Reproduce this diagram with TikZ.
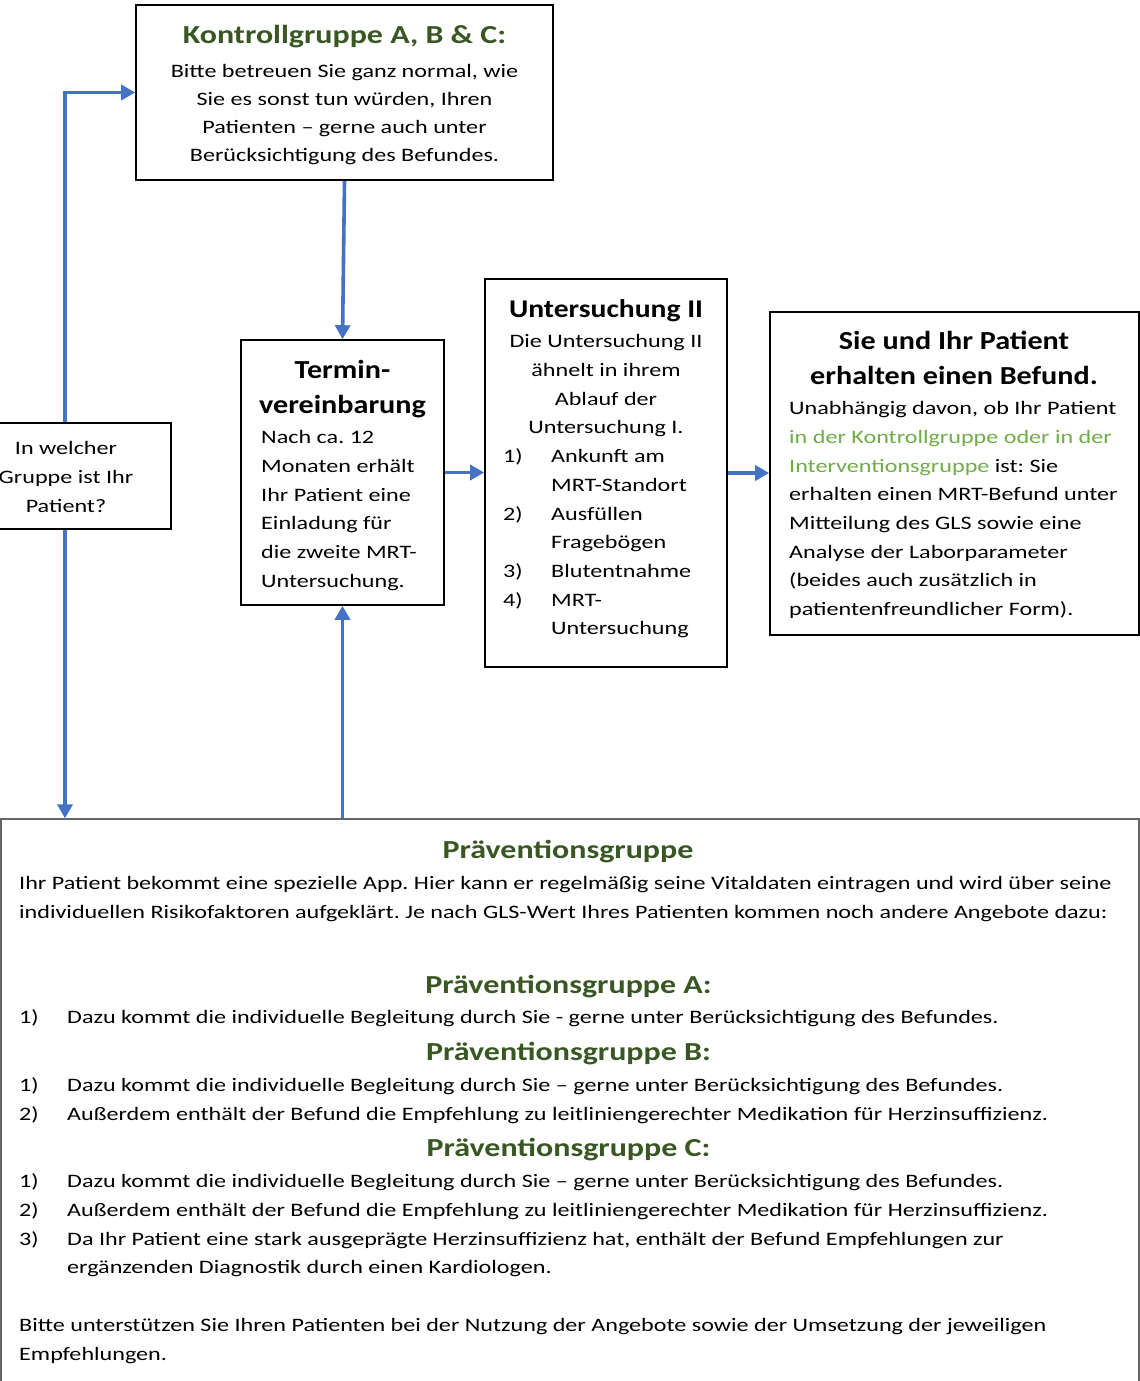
\documentclass[tikz,border=0pt]{standalone}
\usepackage{fontspec}
\setmainfont{Carlito}[FakeStretch=1.27]
\newfontfamily\wideheadfont{Carlito}[FakeStretch=1.23]
\newfontfamily\boxheadfont{Carlito}[FakeStretch=1.16]
\usetikzlibrary{arrows.meta}
\frenchspacing
\definecolor{flowblue}{HTML}{4472C4}
\definecolor{titlegreen}{HTML}{385723}
\definecolor{notegreen}{HTML}{70AD47}
% struts that fix the height of the first line of a text block
\newcommand{\fls}{\rule{0pt}{16pt}}
\newcommand{\tls}{\rule{0pt}{22pt}}
\newcommand{\bodyfont}{\fontsize{19}{28.7}\selectfont}
\newcommand{\headfont}{\wideheadfont\fontsize{26}{35}\selectfont\bfseries}
\newcommand{\bheadfont}{\boxheadfont\fontsize{26}{35}\selectfont\bfseries}
\newcommand{\num}[1]{\makebox[48pt][l]{#1}}
\begin{document}
\begin{tikzpicture}[x=1pt,y=-1pt,
  box/.style={draw=black, line width=1.6pt, inner sep=0pt},
  txt/.style={inner sep=0pt, anchor=north, font=\bodyfont},
  head/.style={inner sep=0pt, anchor=north, font=\headfont},
  bhead/.style={inner sep=0pt, anchor=north, font=\bheadfont},
  arr/.style={draw=flowblue, line width=3.6pt, -{Triangle[length=14pt,width=15pt]}}]
\useasboundingbox (0,0) rectangle (1140,1381);
\fill[white] (0,0) rectangle (1140,1381);

% boxes
\node[box, minimum width=417pt, minimum height=175pt] (kg) at (344.5,92.5) {};
\node[box, minimum width=212pt, minimum height=106pt] (q) at (65,476) {};
\node[box, minimum width=203pt, minimum height=265pt] (tv) at (342.5,472.5) {};
\node[box, minimum width=242pt, minimum height=388pt] (u2) at (606,473) {};
\node[box, minimum width=369pt, minimum height=323pt] (bf) at (954.5,473.5) {};
\node[box, draw=black!60, line width=1.3pt, minimum width=1138pt, minimum height=580pt] (pg) at (570,1109) {};

% Kontrollgruppe
\node[head, text=titlegreen] (kgh) at (344.5,43.3-22) {\tls Kontrollgruppe A, B \& C:};
\node[txt, align=center, font=\fontsize{19}{28}\selectfont] (kgt) at (344.5,77.3-16)
  {\fls Bitte betreuen Sie ganz normal, wie\\Sie es sonst tun würden, Ihren\\Patienten – gerne auch unter\\Berücksichtigung des Befundes.};

% question
\node[txt, align=center] (qt) at (66,454.5-16) {\fls In welcher\\Gruppe ist Ihr\\Patient?};

% Terminvereinbarung
\node[bhead, align=center] (tvh) at (342.5,378-22) {\tls Termin-\\vereinbarung};
\node[txt, anchor=north west, align=left] (tvt) at (261,443.5-16)
  {\fls Nach ca. 12\\Monaten erhält\\Ihr Patient eine\\Einladung für\\die zweite MRT-\\Untersuchung.};

% Untersuchung II
\node[bhead, font=\boxheadfont\fontsize{25.5}{35}\selectfont\bfseries] (u2h) at (606,317-22) {\tls Untersuchung II};
\node[txt, align=center] (u2t) at (606,347.5-16)
  {\fls Die Untersuchung II\\ähnelt in ihrem\\Ablauf der\\Untersuchung I.};
\node[txt, anchor=north west, align=left] (u2l) at (503,462.5-16)
  {\fls\num{1)}Ankunft am\\\num{}MRT-Standort\\\num{2)}Ausfüllen\\\num{}Fragebögen\\\num{3)}Blutentnahme\\\num{4)}MRT-\\\num{}Untersuchung};

% Befund
\node[bhead, align=center] (bfh) at (954,349-22) {\tls Sie und Ihr Patient\\erhalten einen Befund.};
\node[txt, anchor=north west, align=left] (bft) at (789,414.5-16)
  {\fls Unabhängig davon, ob Ihr Patient\\{\color{notegreen}in der Kontrollgruppe oder in der}\\{\color{notegreen}Interventionsgruppe} ist: Sie\\erhalten einen MRT-Befund unter\\Mitteilung des GLS sowie eine\\Analyse der Laborparameter\\(beides auch zusätzlich in\\patientenfreundlicher Form).};

% Praeventionsgruppe
\node[head, text=titlegreen] (pgh) at (568,858-22) {\tls Präventionsgruppe};
\node[txt, anchor=north west, align=left] (pgt) at (19,889.5-16)
  {\fls Ihr Patient bekommt eine spezielle App. Hier kann er regelmäßig seine Vitaldaten eintragen und wird über seine\\individuellen Risikofaktoren aufgeklärt. Je nach GLS-Wert Ihres Patienten kommen noch andere Angebote dazu:};
\node[head, text=titlegreen] (pah) at (568.5,993-22) {\tls Präventionsgruppe A:};
\node[txt, anchor=north west, align=left] (pat) at (19,1023.5-16)
  {\fls\num{1)}Dazu kommt die individuelle Begleitung durch Sie - gerne unter Berücksichtigung des Befundes.};
\node[head, text=titlegreen] (pbh) at (568.5,1060-22) {\tls Präventionsgruppe B:};
\node[txt, anchor=north west, align=left] (pbt) at (19,1091.5-16)
  {\fls\num{1)}Dazu kommt die individuelle Begleitung durch Sie – gerne unter Berücksichtigung des Befundes.\\\num{2)}Außerdem enthält der Befund die Empfehlung zu leitliniengerechter Medikation für Herzinsuffizienz.};
\node[head, text=titlegreen] (pch) at (568.5,1156-22) {\tls Präventionsgruppe C:};
\node[txt, anchor=north west, align=left] (pct) at (19,1187.5-16)
  {\fls\num{1)}Dazu kommt die individuelle Begleitung durch Sie – gerne unter Berücksichtigung des Befundes.\\\num{2)}Außerdem enthält der Befund die Empfehlung zu leitliniengerechter Medikation für Herzinsuffizienz.\\\num{3)}Da Ihr Patient eine stark ausgeprägte Herzinsuffizienz hat, enthält der Befund Empfehlungen zur\\\num{}ergänzenden Diagnostik durch einen Kardiologen.};
\node[txt, anchor=north west, align=left] (pgf) at (19,1331.5-16)
  {\fls Bitte unterstützen Sie Ihren Patienten bei der Nutzung der Angebote sowie der Umsetzung der jeweiligen\\Empfehlungen.};

% connectors
\draw[arr] (q.north) |- (kg.west);
\draw[arr] (q.south) -- (q.south |- pg.north);
\draw[arr] (kg.south) -- (tv.north);
\draw[arr] (tv.south |- pg.north) -- (tv.south);
\draw[arr] (tv.east) -- (tv.east -| u2.west);
\draw[arr] (u2.east) -- (u2.east -| bf.west);
\end{tikzpicture}
\end{document}
